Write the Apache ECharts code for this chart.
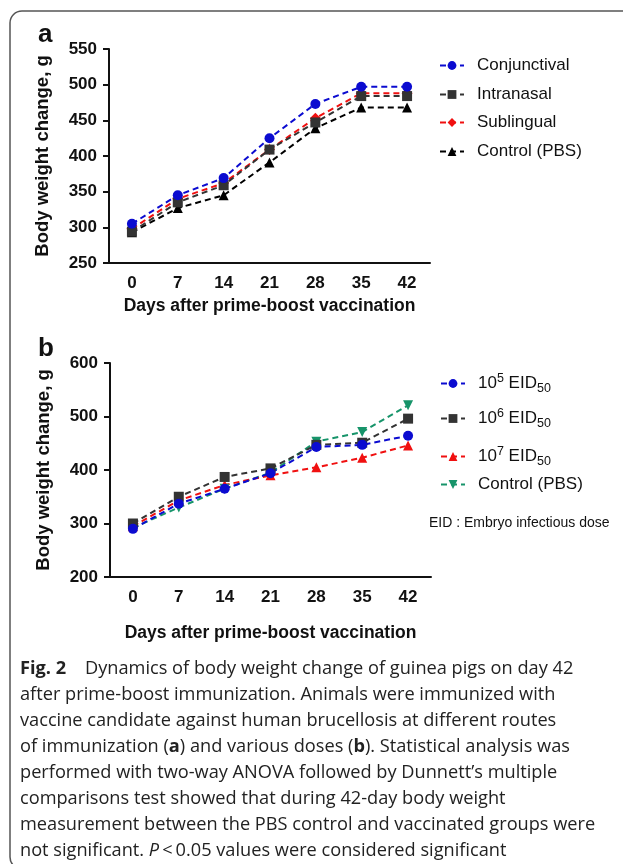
<!DOCTYPE html>
<html>
<head>
<meta charset="utf-8">
<script src="https://cdn.jsdelivr.net/npm/echarts@6/dist/echarts.min.js"></script>
<style>
html,body{margin:0;padding:0;background:#fff;}
#chart{width:623px;height:864px;}
</style>
</head>
<body>
<div id="chart"></div>
<script>
// ---- data ----
var days = ['0', '7', '14', '21', '28', '35', '42'];

// panel a: routes of immunization
var aNames = ['Conjunctival', 'Intranasal', 'Sublingual', 'Control (PBS)'];
var aConjunctival = [305, 345, 369, 425, 473, 497, 497];
var aIntranasal   = [294, 335, 359, 409, 447, 484, 484];
var aSublingual   = [298, 340, 362, 409, 453, 488, 488];
var aControl      = [293, 327, 345, 391, 439, 468, 468];

// panel b: doses
var bNames = ['10^5 EID50', '10^6 EID50', '10^7 EID50', 'Control (PBS) '];
var bDose5   = [290, 337, 365, 394, 443, 447, 464];
var bDose6   = [300, 350, 387, 403, 447, 451, 496];
var bDose7   = [295, 343, 372, 390, 405, 423, 446];
var bControl = [292, 330, 365, 395, 453, 471, 521];

var aYTicks = {min: 250, max: 550, step: 50};
var bYTicks = {min: 200, max: 600, step: 100};

var captionLines = [
  '{b|Fig. 2}    Dynamics of body weight change of guinea pigs on day 42',
  'after prime-boost immunization. Animals were immunized with',
  'vaccine candidate against human brucellosis at different routes',
  'of immunization ({b|a}) and various doses ({b|b}). Statistical analysis was',
  'performed with two-way ANOVA followed by Dunnett\u2019s multiple',
  'comparisons test showed that during 42-day body weight',
  'measurement between the PBS control and vaccinated groups were',
  'not significant. {i|P}\u2009<\u20090.05 values were considered significant'
];

// ---- chart ----
var chart = echarts.init(document.getElementById('chart'), null, {renderer: 'canvas'});
var AX = 'Liberation Sans, Arial, sans-serif';
var CF = 'Open Sans, Noto Sans, sans-serif';
var CS = 18.2;
var axisColor = '#111';

function xAxisDef(gridIndex, nameGap) {
  return {
    type: 'category', gridIndex: gridIndex, data: days, boundaryGap: true,
    name: 'Days after prime-boost vaccination', nameLocation: 'middle', nameGap: nameGap,
    nameTextStyle: {fontFamily: AX, fontWeight: 'bold', fontSize: 17.5, color: '#111'},
    axisLine: {lineStyle: {color: axisColor, width: 2}},
    axisTick: {alignWithLabel: true, length: 6, lineStyle: {color: axisColor, width: 2}},
    axisLabel: {fontFamily: AX, fontWeight: 'bold', fontSize: 17, color: '#111', margin: 12},
    splitLine: {show: false}
  };
}
function yAxisDef(gridIndex, t) {
  return {
    type: 'value', gridIndex: gridIndex, min: t.min, max: t.max, interval: t.step,
    name: 'Body weight change, g', nameLocation: 'middle', nameGap: 57,
    nameTextStyle: {fontFamily: AX, fontWeight: 'bold', fontSize: 18.5, color: '#111'},
    axisLine: {show: true, lineStyle: {color: axisColor, width: 2}},
    axisTick: {show: true, length: 6, lineStyle: {color: axisColor, width: 2}},
    axisLabel: {fontFamily: AX, fontWeight: 'bold', fontSize: 17, color: '#111', margin: 12},
    splitLine: {show: false}
  };
}
function lineSeries(name, data, color, symbol, xi, rotate) {
  return {
    type: 'line', name: name, data: data, xAxisIndex: xi, yAxisIndex: xi,
    symbol: symbol, symbolSize: symbol === 'diamond' ? 11 : 10, symbolRotate: rotate || 0,
    showAllSymbol: true,
    itemStyle: {color: color, borderWidth: 0},
    lineStyle: {color: color, width: 2, type: [6, 4]},
    emphasis: {disabled: true},
    animation: false
  };
}
function legendDef(name, top, left, formatter) {
  var l = {
    data: [name], left: left, top: top, orient: 'vertical', padding: 0,
    itemWidth: 24, itemHeight: 11, selectedMode: false,
    textStyle: {fontFamily: AX, fontSize: 17, color: '#111', padding: [0, 0, 0, 8],
      rich: {
        n: {fontFamily: AX, fontSize: 17, color: '#111'},
        sup: {fontFamily: AX, fontSize: 12.5, color: '#111', verticalAlign: 'top', padding: [0, 0, 10, 0]},
        sub: {fontFamily: AX, fontSize: 12.5, color: '#111', verticalAlign: 'bottom', padding: [8, 0, 0, 0]}
      }
    }
  };
  if (formatter) l.formatter = formatter;
  return l;
}
function doseFmt(name) {
  var m = name.match(/^10\^(\d) EID50$/);
  if (m) return '{n|10}{sup|' + m[1] + '}{n| EID}{sub|50}';
  return name;
}

var aColors = ['#0b0bd0', '#333333', '#f01010', '#000000'];
var bColors = ['#0b0bd0', '#333333', '#f01010', '#17946a'];

var caption = captionLines.map(function (s, i) {
  return {
    type: 'text', left: 20, top: 660 + i * 26,
    style: {
      text: s, fontFamily: CF, fontSize: CS, fill: '#222',
      rich: {
        b: {fontFamily: CF, fontSize: CS, fontWeight: 'bold', fill: '#222'},
        i: {fontFamily: CF, fontSize: CS, fontStyle: 'italic', fill: '#222'}
      }
    }
  };
});

var option = {
  backgroundColor: '#fff',
  animation: false,
  grid: [
    {left: 109, top: 49, width: 321, height: 214},
    {left: 110, top: 363, width: 321, height: 214}
  ],
  xAxis: [xAxisDef(0, 34), xAxisDef(1, 47)],
  yAxis: [yAxisDef(0, aYTicks), yAxisDef(1, bYTicks)],
  legend: [
    legendDef(aNames[0], 57, 439),
    legendDef(aNames[1], 86, 439),
    legendDef(aNames[2], 114, 439),
    legendDef(aNames[3], 143, 439),
    legendDef(bNames[0], 372, 440, doseFmt),
    legendDef(bNames[1], 407, 440, doseFmt),
    legendDef(bNames[2], 445, 440, doseFmt),
    legendDef(bNames[3], 476, 440)
  ],
  series: [
    lineSeries(aNames[3], aControl, aColors[3], 'triangle', 0),
    lineSeries(aNames[2], aSublingual, aColors[2], 'diamond', 0),
    lineSeries(aNames[1], aIntranasal, aColors[1], 'rect', 0),
    lineSeries(aNames[0], aConjunctival, aColors[0], 'circle', 0),
    lineSeries(bNames[3], bControl, bColors[3], 'triangle', 1, 180),
    lineSeries(bNames[2], bDose7, bColors[2], 'triangle', 1),
    lineSeries(bNames[1], bDose6, bColors[1], 'rect', 1),
    lineSeries(bNames[0], bDose5, bColors[0], 'circle', 1)
  ],
  graphic: [
    {type: 'rect', shape: {x: 10, y: 11, width: 660, height: 858, r: 12},
      style: {fill: 'none', stroke: '#555', lineWidth: 1.5}, silent: true, z: -1},
    {type: 'text', left: 38, top: 22, style: {text: 'a', fontFamily: AX, fontWeight: 'bold', fontSize: 26, fill: '#111'}},
    {type: 'text', left: 38, top: 336, style: {text: 'b', fontFamily: AX, fontWeight: 'bold', fontSize: 26, fill: '#111'}},
    {type: 'text', left: 429, top: 516, style: {text: 'EID : Embryo infectious dose', fontFamily: AX, fontSize: 14, fill: '#111'}}
  ].concat(caption)
};
chart.setOption(option);
</script>
</body>
</html>
